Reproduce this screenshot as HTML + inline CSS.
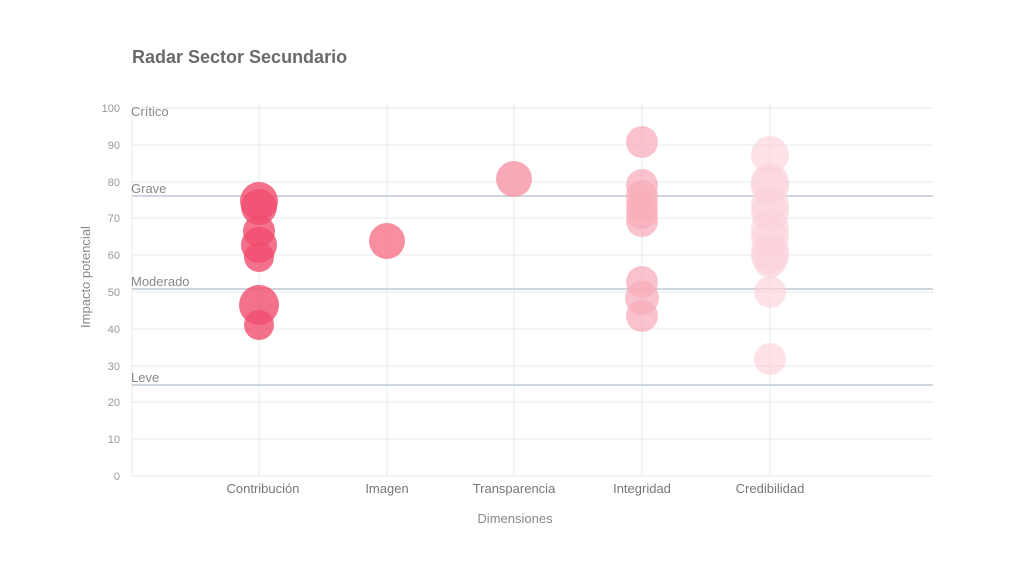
<!DOCTYPE html>
<html><head><meta charset="utf-8"><style>
body{margin:0;background:#fff;}
svg{display:block;font-family:"Liberation Sans",sans-serif;}
</style></head><body>
<svg width="1024" height="576" viewBox="0 0 1024 576">
<text x="132" y="63" font-size="18" font-weight="bold" fill="#6b6b6b">Radar Sector Secundario</text>
<g stroke="#e6e8ec" stroke-width="1">
<line x1="132" y1="108" x2="933" y2="108"/><line x1="132" y1="145" x2="933" y2="145"/>
<line x1="132" y1="182" x2="933" y2="182"/><line x1="132" y1="218" x2="933" y2="218"/>
<line x1="132" y1="255" x2="933" y2="255"/><line x1="132" y1="292" x2="933" y2="292"/>
<line x1="132" y1="329" x2="933" y2="329"/><line x1="132" y1="366" x2="933" y2="366"/>
<line x1="132" y1="402" x2="933" y2="402"/><line x1="132" y1="439" x2="933" y2="439"/>
<line x1="132" y1="476" x2="933" y2="476"/>
<line x1="132" y1="104" x2="132" y2="476"/>
<line x1="259" y1="104" x2="259" y2="476"/><line x1="387" y1="104" x2="387" y2="476"/>
<line x1="514" y1="104" x2="514" y2="476"/><line x1="642" y1="104" x2="642" y2="476"/>
<line x1="770" y1="104" x2="770" y2="476"/>
</g>
<g stroke="#cfd5dc" stroke-width="2">
<line x1="132" y1="196" x2="933" y2="196"/><line x1="132" y1="289" x2="933" y2="289"/><line x1="132" y1="385" x2="933" y2="385"/>
</g>
<g font-size="13" fill="#888">
<text x="131" y="116">Crítico</text><text x="131" y="193">Grave</text>
<text x="131" y="286">Moderado</text><text x="131" y="382">Leve</text>
</g>
<g font-size="11" fill="#999" text-anchor="end">
<text x="120" y="112">100</text><text x="120" y="149">90</text><text x="120" y="186">80</text>
<text x="120" y="222">70</text><text x="120" y="259">60</text><text x="120" y="296">50</text>
<text x="120" y="333">40</text><text x="120" y="370">30</text><text x="120" y="406">20</text>
<text x="120" y="443">10</text><text x="120" y="480">0</text>
</g>
<text transform="translate(90,277) rotate(-90)" font-size="13" fill="#888" text-anchor="middle">Impacto potencial</text>
<g font-size="13" fill="#777" text-anchor="middle">
<text x="263" y="493">Contribución</text><text x="387" y="493">Imagen</text>
<text x="514" y="493">Transparencia</text><text x="642" y="493">Integridad</text>
<text x="770" y="493">Credibilidad</text>
<text x="515" y="523" fill="#888">Dimensiones</text>
</g>
<g fill="#f04e6e" fill-opacity="0.8">
<circle cx="259" cy="201" r="19"/><circle cx="259" cy="207" r="18"/><circle cx="259" cy="231" r="16"/>
<circle cx="259" cy="245" r="18"/><circle cx="259" cy="257" r="15"/><circle cx="259" cy="305" r="20"/>
<circle cx="259" cy="325" r="15"/>
</g>
<circle cx="387" cy="241" r="18" fill="#f87a8f" fill-opacity="0.85"/>
<circle cx="514" cy="179" r="18" fill="#f8a0ae" fill-opacity="0.9"/>
<g fill="#f8aebb" fill-opacity="0.75">
<circle cx="642" cy="142" r="16"/><circle cx="642" cy="185" r="16"/><circle cx="642" cy="196" r="16"/>
<circle cx="642" cy="205" r="16"/><circle cx="642" cy="213" r="16"/><circle cx="642" cy="221" r="16"/>
<circle cx="642" cy="282" r="16"/><circle cx="642" cy="298" r="17"/><circle cx="642" cy="316" r="16"/>
</g>
<g fill="#fcd3db" fill-opacity="0.65">
<circle cx="770" cy="155" r="19"/><circle cx="770" cy="182" r="19"/><circle cx="770" cy="186" r="19"/>
<circle cx="770" cy="205" r="19"/><circle cx="770" cy="212" r="19"/><circle cx="770" cy="228" r="19"/>
<circle cx="770" cy="238" r="19"/><circle cx="770" cy="252" r="19"/><circle cx="770" cy="256" r="19"/>
<circle cx="770" cy="262" r="16"/><circle cx="770" cy="292" r="16"/><circle cx="770" cy="359" r="16"/>
</g>
</svg>
</body></html>
